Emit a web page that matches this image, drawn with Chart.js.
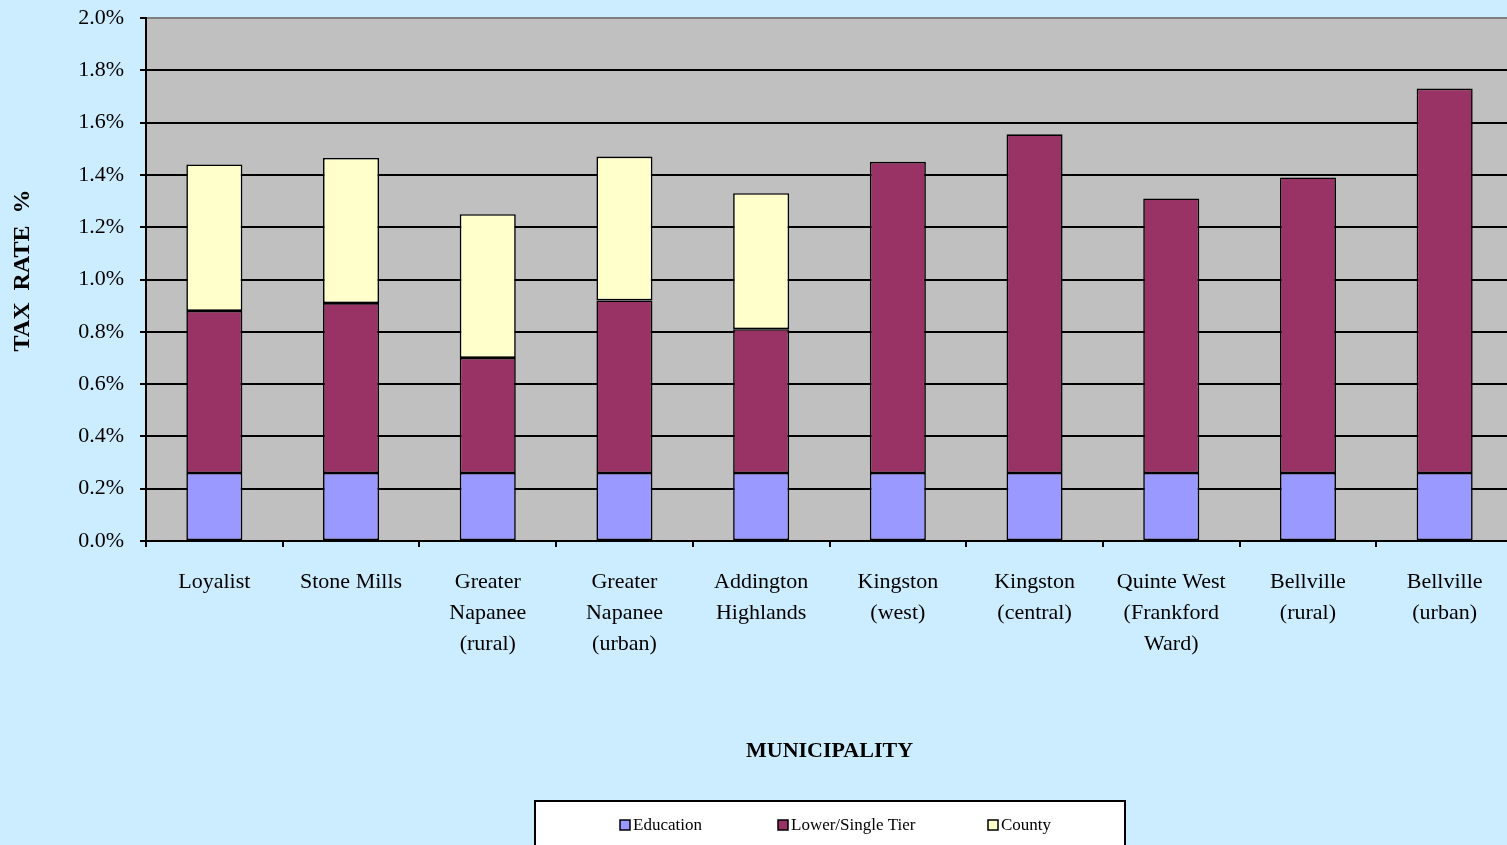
<!DOCTYPE html>
<html>
<head>
<meta charset="utf-8">
<script src="https://cdn.jsdelivr.net/npm/chart.js@4/dist/chart.umd.min.js"></script>
<style>
  html, body { margin: 0; padding: 0; background: #CCECFF; overflow: hidden; }
  #wrap { position: relative; width: 1513px; height: 845px; }
</style>
</head>
<body>
<div id="wrap"><canvas id="taxChart"></canvas></div>
<script>
// Categories and series (tax rate, %)
const municipalities = [
    'Loyalist', 'Stone Mills', ['Greater', 'Napanee', '(rural)'], ['Greater', 'Napanee', '(urban)'],
    ['Addington', 'Highlands'], ['Kingston', '(west)'], ['Kingston', '(central)'],
    ['Quinte West', '(Frankford', 'Ward)'], ['Bellville', '(rural)'], ['Bellville', '(urban)']
];
const education = [0.26, 0.26, 0.26, 0.26, 0.26, 0.26, 0.26, 0.26, 0.26, 0.26];
const lowerTier = [0.62, 0.65, 0.44, 0.66, 0.55, 1.19, 1.295, 1.05, 1.13, 1.47];
const county = [0.56, 0.555, 0.55, 0.55, 0.52, null, null, null, null, null];
const yTicks = [0, 0.2, 0.4, 0.6, 0.8, 1.0, 1.2, 1.4, 1.6, 1.8, 2.0];

const serif = '"Liberation Serif", "DejaVu Serif", serif';

// grey plot area
const plotBackground = {
    id: 'plotBackground',
    beforeDraw(chart) {
        const { ctx, chartArea: a } = chart;
        ctx.save();
        ctx.fillStyle = '#C0C0C0';
        ctx.fillRect(a.left, a.top, a.right - a.left, a.bottom - a.top);
        ctx.restore();
    }
};

// boxed legend at the bottom
const boxLegend = {
    id: 'boxLegend',
    afterDraw(chart) {
        const ctx = chart.ctx;
        const itemX = [620, 778, 988];
        ctx.save();
        ctx.fillStyle = '#FFFFFF';
        ctx.fillRect(535, 801, 590, 60);
        ctx.strokeStyle = '#000';
        ctx.lineWidth = 2;
        ctx.strokeRect(535, 801, 590, 60);
        ctx.font = '17px ' + serif;
        ctx.textBaseline = 'middle';
        chart.data.datasets.forEach((ds, i) => {
            ctx.fillStyle = ds.backgroundColor;
            ctx.fillRect(itemX[i], 820, 10, 10);
            ctx.lineWidth = 1.5;
            ctx.strokeRect(itemX[i], 820, 10, 10);
            ctx.fillStyle = '#000';
            ctx.fillText(ds.label, itemX[i] + 13, 826);
        });
        ctx.restore();
    }
};

const ctx = document.getElementById('taxChart').getContext('2d');
new Chart(ctx, {
    type: 'bar',
    data: {
        labels: municipalities,
        datasets: [
            { label: 'Education', data: education, backgroundColor: '#9999FF' },
            { label: 'Lower/Single Tier', data: lowerTier, backgroundColor: '#993366' },
            { label: 'County', data: county, backgroundColor: '#FFFFCC' }
        ].map(ds => Object.assign(ds, {
            borderColor: '#000', borderWidth: 1.6, borderSkipped: false,
            barPercentage: 0.41, categoryPercentage: 1
        }))
    },
    options: {
        responsive: true,
        maintainAspectRatio: false,
        animation: false,
        layout: { padding: { top: 18, right: 0, bottom: 80, left: 0 } },
        plugins: { legend: { display: false }, tooltip: { enabled: false } },
        scales: {
            x: {
                stacked: true,
                afterFit: s => { s.height = 224; s.paddingRight = 0; },
                grid: { color: 'transparent', tickColor: '#000', tickLength: 6, lineWidth: 2, offset: true },
                border: { color: '#000', width: 2 },
                ticks: {
                    color: '#000', padding: 20, maxRotation: 0, autoSkip: false,
                    font: { family: serif, size: 22, lineHeight: 1.4 }
                },
                title: {
                    display: true, text: 'MUNICIPALITY', color: '#000',
                    font: { family: serif, size: 22, weight: 'bold' }, padding: 0
                }
            },
            y: {
                stacked: true,
                min: 0, max: 2.0,
                afterFit: s => { s.width = 146; s.paddingTop = 0; },
                afterBuildTicks: s => { s.ticks = yTicks.map(v => ({ value: v })); },
                grid: {
                    color: c => (c.tick && c.tick.value === 2.0 ? '#808080' : '#000'),
                    tickColor: '#000', tickLength: 6, lineWidth: 2
                },
                border: { color: '#000', width: 2 },
                ticks: {
                    color: '#000', padding: 16,
                    font: { family: serif, size: 22 },
                    callback: v => v.toFixed(1) + '%'
                },
                title: {
                    display: true, text: '   TAX  RATE  %', color: '#000',
                    font: { family: serif, size: 24, weight: 'bold' }, padding: { top: 8, bottom: 0 }
                }
            }
        }
    },
    plugins: [plotBackground, boxLegend]
});
</script>
</body>
</html>
